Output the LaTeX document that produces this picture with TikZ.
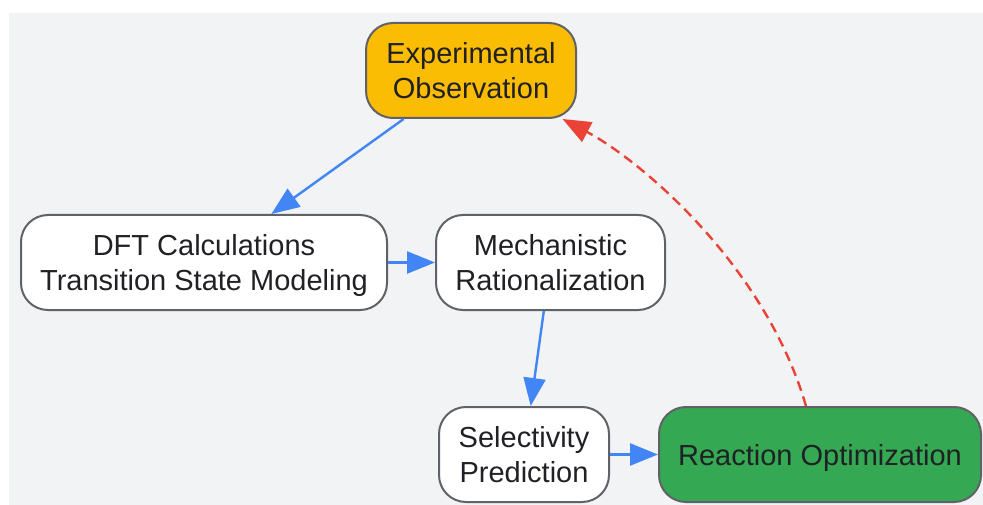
\documentclass[tikz,border=0pt]{standalone}
\usepackage{fontspec}
\setmainfont{Liberation Sans}
\usetikzlibrary{arrows.meta}
\definecolor{bgGray}{HTML}{F1F3F5}
\definecolor{edgeGray}{HTML}{5F6368}
\definecolor{inkDark}{HTML}{202124}
\definecolor{obsYellow}{HTML}{FBBC04}
\definecolor{optGreen}{HTML}{34A853}
\definecolor{flowBlue}{HTML}{4285F4}
\definecolor{loopRed}{HTML}{EA4335}
\tikzset{block/.style={draw=edgeGray,line width=2pt,rounded corners=27pt,align=center,text=inkDark,
                       font=\fontsize{29}{35}\selectfont,minimum height=95pt,inner sep=2pt,text depth=0pt,fill=white},
         line/.style={draw=flowBlue,line width=2.4pt,-{Triangle[length=28pt,width=22pt]}},
         loopline/.style={draw=loopRed,line width=2.4pt,dash pattern=on 10pt off 6pt,-{Triangle[length=28pt,width=22pt]}}
}
\begin{document}
\begin{tikzpicture}[x=1pt,y=1pt,yscale=-1,xscale=1]
\useasboundingbox (0,0) rectangle (983,505);
%Background
\fill[bgGray] (9,13) rectangle (983,505);

%Flowchart: Process
\node[block,fill=obsYellow,minimum width=210pt] (exp) at (471,70.5) {Experimental\\Observation};
%Flowchart: Process
\node[block,minimum width=366pt] (dft) at (204,262.5) {DFT Calculations\\Transition State Modeling};
%Flowchart: Process
\node[block,minimum width=229pt] (mech) at (550.5,262.5) {Mechanistic\\Rationalization};
%Flowchart: Process
\node[block,minimum width=170pt] (sel) at (524,454.5) {Selectivity\\Prediction};
%Flowchart: Process
\node[block,fill=optGreen,minimum width=322pt] (opt) at (820,454.5) {Reaction Optimization};

%Straight Lines
\draw[line] (exp) -- (dft);
\draw[line] (dft) -- (mech);
\draw[line] (mech) -- (sel);
\draw[line] (sel) -- (opt);
%Curve back
\draw[loopline] (opt) .. controls (765,265) and (640,160) .. (exp);

\end{tikzpicture}
\end{document}
